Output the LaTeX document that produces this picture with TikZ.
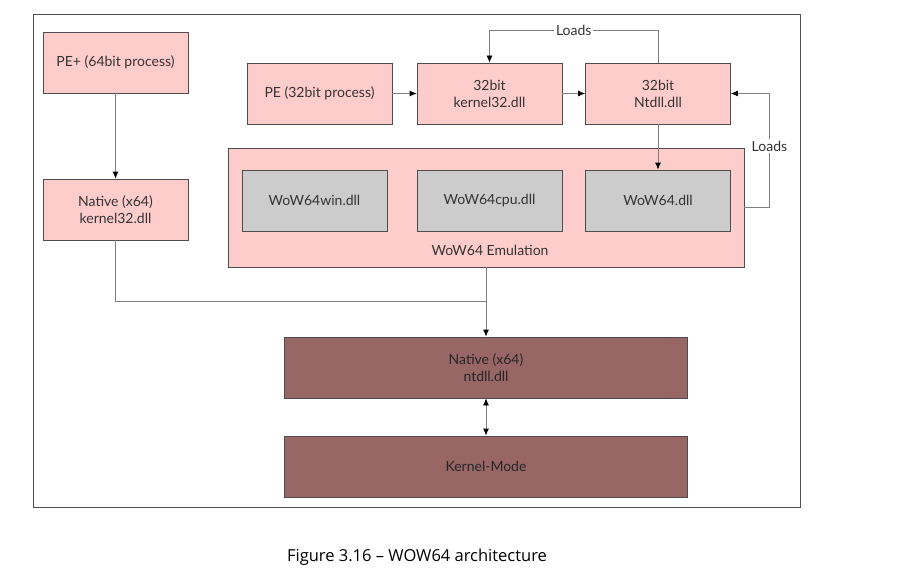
\documentclass[tikz,border=0pt]{standalone}
\usepackage{fontspec}
\setmainfont{Lato}
\newfontfamily\capfont{Open Sans}
\usepackage{tikz}
\usetikzlibrary{arrows.meta}

\definecolor{pinkbox}{HTML}{FFCCCC}
\definecolor{greybox}{HTML}{CCCCCC}
\definecolor{brownbox}{HTML}{996666}
\definecolor{edge}{HTML}{4D4D4D}
\definecolor{wire}{HTML}{7F7F7F}

\tikzset{
  dll/.style={draw=edge, line width=0.8pt, fill=pinkbox, minimum width=145pt,
    minimum height=61pt, align=center, text=black!80,
    font=\fontsize{14}{17}\selectfont},
  grey/.style={dll, fill=greybox},
  native/.style={dll, fill=brownbox, minimum width=403pt, text=black!85},
  wire/.style={draw=wire, line width=0.8pt},
  lbl/.style={fill=white, inner sep=2pt, text=black!80, font=\fontsize{14}{17}\selectfont}
}

\begin{document}
\begin{tikzpicture}[>={Latex[length=7pt,width=6pt,color=black]},x=1pt,y=-1pt]
   \useasboundingbox (0,0) rectangle (918,578);
   \draw[edge, line width=0.8pt] (33,14) rectangle (800,507);

   \node[dll] (pe64) at (115.5,62.5) {PE+ (64bit process)};
   \node[dll] (k32n) at (115.5,209.5) {Native (x64)\\kernel32.dll};
   \node[dll] (pe32) at (319.5,93.5) {PE (32bit process)};
   \node[dll] (k32) at (489.5,93.5) {32bit\\kernel32.dll};
   \node[dll] (ntdll32) at (658,93.5) {32bit\\Ntdll.dll};

   \node[dll, minimum width=516pt, minimum height=119pt] (emu) at (486,207.5) {};
   \node[grey] (win) at (314.5,200.5) {WoW64win.dll};
   \node[grey] (cpu) at (489.5,200.5) {WoW64cpu.dll};
   \node[grey] (wow) at (658,200.5) {WoW64.dll};
   \node[lbl, fill=none] (emul) at (490,250) {WoW64 Emulation};

   \node[native] (ntdlln) at (486,367.5) {Native (x64)\\ntdll.dll};
   \node[native] (kmode) at (486,466.5) {Kernel-Mode};

   \node[font=\capfont\fontsize{16.5}{20}\selectfont] (cap) at (417,557) {Figure 3.16 – WOW64 architecture};

   \coordinate (j) at (486,301);

   \draw[wire,->] (pe64) -- (k32n);
   \draw[wire,->] (pe32) -- (k32);
   \draw[wire,->] (k32) -- (ntdll32);
   \draw[wire,->] (ntdll32) -- (wow);
   \draw[wire,->] (ntdll32.north) -- ++(0,-32) -| node[lbl,pos=0.25] {Loads} (k32.north);
   \draw[wire,->] (emu.east) -- ++(25,0) |- node[lbl,pos=0.27] {Loads} (ntdll32.east);
   \draw[wire] (k32n.south) |- (j);
   \draw[wire,->] (emu.south) -- (ntdlln.north);
   \draw[wire,<->] (ntdlln) -- (kmode);
\end{tikzpicture}
\end{document}
